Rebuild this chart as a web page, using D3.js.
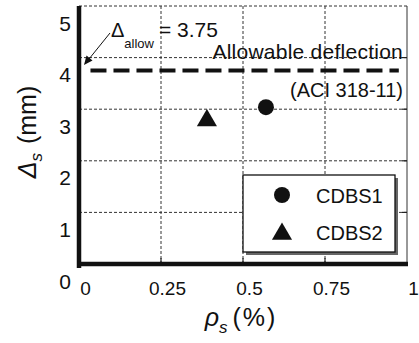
<!DOCTYPE html>
<html>
<head>
<meta charset="utf-8">
<script src="https://cdn.jsdelivr.net/npm/d3@7"></script>
<style>
  body { margin: 0; background: #fff; }
  text { font-family: "Liberation Sans", Arial, sans-serif; fill: #111; }
</style>
</head>
<body>
<div id="chart"></div>
<script>
// data
var series   = ["CDBS1", "CDBS2"];
var rhoS     = [0.57, 0.39];    // %
var deltaS   = [3.04, 2.78];    // mm
var xTicks   = [0, 0.25, 0.5, 0.75, 1];
var yTicks   = [0, 1, 2, 3, 4, 5];
var allowVal = 3.75;
var allowX   = [0.035, 0.975];

var w = 419, h = 343;
var x = d3.scaleLinear().domain([0, 1]).range([79, 407]);
var y = d3.scaleLinear().domain([0, 5]).range([264, 6]);

var svg = d3.select("#chart").append("svg")
  .attr("width", w).attr("height", h);

// grid
var grid = svg.append("g").attr("stroke", "#333").attr("stroke-width", 1)
  .attr("stroke-dasharray", "3,2");
grid.selectAll(".gx").data(xTicks.slice(1, -1)).enter().append("line")
  .attr("x1", d => x(d)).attr("x2", d => x(d))
  .attr("y1", y(5)).attr("y2", y(0));
grid.selectAll(".gy").data(yTicks.slice(1)).enter().append("line")
  .attr("y1", d => y(d)).attr("y2", d => y(d))
  .attr("x1", x(0)).attr("x2", x(1));

// right frame line
svg.append("line").attr("x1", x(1)).attr("x2", x(1))
  .attr("y1", y(5)).attr("y2", y(0))
  .attr("stroke", "#333").attr("stroke-width", 1);

// inward ticks
svg.append("g").selectAll("line").data(xTicks.slice(1, -1)).enter().append("line")
  .attr("x1", d => x(d)).attr("x2", d => x(d))
  .attr("y1", y(0)).attr("y2", y(0) - 6)
  .attr("stroke", "#222").attr("stroke-width", 1.2);
svg.append("g").selectAll("line").data(yTicks.slice(1, -1)).enter().append("line")
  .attr("y1", d => y(d)).attr("y2", d => y(d))
  .attr("x1", x(1)).attr("x2", x(1) - 5)
  .attr("stroke", "#222").attr("stroke-width", 1.2);

// thick axes
svg.append("line").attr("x1", x(0)).attr("x2", x(0))
  .attr("y1", y(5)).attr("y2", y(0) + 4)
  .attr("stroke", "#111").attr("stroke-width", 4.5);
svg.append("line").attr("x1", x(0) - 2).attr("x2", x(1) + 1)
  .attr("y1", y(0)).attr("y2", y(0))
  .attr("stroke", "#111").attr("stroke-width", 4.5);

// tick labels
var xAxis = svg.append("g").attr("transform", "translate(0," + y(0) + ")")
  .call(d3.axisBottom(x).tickValues(xTicks).tickSize(0).tickFormat(d => String(d)));
xAxis.select(".domain").remove();
xAxis.selectAll("text").attr("y", 31).attr("dy", 0).attr("dx", 6)
  .style("font-size", "19px").style("font-family", "Liberation Sans, Arial, sans-serif").attr("fill", "#111");

var yAxis = svg.append("g").attr("transform", "translate(71,0)")
  .call(d3.axisLeft(y).tickValues(yTicks).tickSize(0).tickFormat(d => String(d)));
yAxis.select(".domain").remove();
yAxis.selectAll("text").attr("x", 0).attr("dy", 0).attr("y", 24)
  .style("font-size", "21px").style("font-family", "Liberation Sans, Arial, sans-serif").attr("fill", "#111");

// allowable deflection
svg.append("line")
  .attr("x1", x(allowX[0])).attr("x2", x(allowX[1]))
  .attr("y1", y(allowVal)).attr("y2", y(allowVal))
  .attr("stroke", "#111").attr("stroke-width", 4)
  .attr("stroke-dasharray", "16,7");

svg.append("text").attr("x", 403).attr("y", 59).attr("text-anchor", "end")
  .style("font-size", "21px").style("letter-spacing", "0.25px").text("Allowable deflection");
svg.append("text").attr("x", 403).attr("y", 97).attr("text-anchor", "end")
  .style("font-size", "20px").text("(ACI 318-11)");

var ann = svg.append("text").attr("x", 111).attr("y", 37).style("font-size", "20px");
ann.append("tspan").text("\u0394");
ann.append("tspan").attr("dy", 11).style("font-size", "13px").text("allow");
ann.append("tspan").attr("dy", -11).attr("dx", 5).style("font-size", "21px").text("= 3.75");

// arrow
svg.append("line").attr("x1", 110).attr("y1", 33).attr("x2", 89).attr("y2", 59)
  .attr("stroke", "#111").attr("stroke-width", 1);
svg.append("path").attr("d", "M84,65 L86.5,55.5 L92.5,60.5 Z").attr("fill", "#111");

// data points
svg.append("circle").attr("cx", x(rhoS[0])).attr("cy", y(deltaS[0])).attr("r", 8)
  .attr("fill", "#111");
svg.append("path").attr("d", d3.symbol(d3.symbolTriangle, 175)())
  .attr("transform", "translate(" + x(rhoS[1]) + "," + y(deltaS[1]) + ")")
  .attr("fill", "#111");

// legend
var lg = svg.append("g");
lg.append("rect").attr("x", 246).attr("y", 178).attr("width", 152).attr("height", 77)
  .attr("fill", "#666");
lg.append("rect").attr("x", 243).attr("y", 175).attr("width", 152).attr("height", 77)
  .attr("fill", "#fff").attr("stroke", "#111").attr("stroke-width", 1.3);
lg.append("circle").attr("cx", 282).attr("cy", 195).attr("r", 8).attr("fill", "#111");
lg.append("path").attr("d", d3.symbol(d3.symbolTriangle, 175)())
  .attr("transform", "translate(282,234)").attr("fill", "#111");
lg.selectAll(".lt").data(series).enter().append("text")
  .attr("x", 316).attr("y", (d, i) => 203 + i * 37)
  .style("font-size", "20px").text(d => d);

// axis titles
var yt = svg.append("text").attr("transform", "translate(36,132) rotate(-90)")
  .attr("text-anchor", "middle").style("font-size", "25px");
yt.append("tspan").style("font-style", "italic").text("\u0394");
yt.append("tspan").attr("dy", 6).style("font-size", "17px").style("font-style", "italic").text("s");
yt.append("tspan").attr("dy", -6).attr("dx", 2).text(" (mm)");

var xt = svg.append("text").attr("x", 241).attr("y", 326)
  .attr("text-anchor", "middle").style("font-size", "25px");
xt.append("tspan").style("font-style", "italic").text("\u03c1");
xt.append("tspan").attr("dy", 7).style("font-size", "17px").style("font-style", "italic").text("s");
xt.append("tspan").attr("dy", -7).attr("dx", 5).style("letter-spacing", "2px").text("(%)");
</script>
</body>
</html>
